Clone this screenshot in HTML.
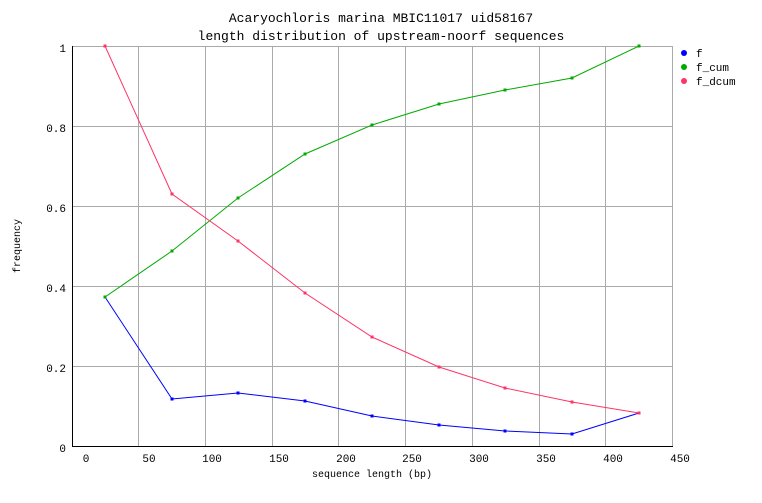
<!DOCTYPE html>
<html><head><style>body{margin:0;background:#fff}</style></head><body>
<svg width="762" height="498" xmlns="http://www.w3.org/2000/svg" font-family="Liberation Mono, DejaVu Sans Mono, monospace" font-size="11">
<rect width="762" height="498" fill="#fff"/>
<g stroke="#aaa" stroke-width="1">
<line x1="138.5" y1="46" x2="138.5" y2="446"/><line x1="205.5" y1="46" x2="205.5" y2="446"/><line x1="272.5" y1="46" x2="272.5" y2="446"/><line x1="338.5" y1="46" x2="338.5" y2="446"/><line x1="405.5" y1="46" x2="405.5" y2="446"/><line x1="472.5" y1="46" x2="472.5" y2="446"/><line x1="539.5" y1="46" x2="539.5" y2="446"/><line x1="605.5" y1="46" x2="605.5" y2="446"/>
<line x1="72" y1="366.5" x2="672" y2="366.5"/><line x1="72" y1="286.5" x2="672" y2="286.5"/><line x1="72" y1="206.5" x2="672" y2="206.5"/><line x1="72" y1="126.5" x2="672" y2="126.5"/>
<line x1="72" y1="46.5" x2="672" y2="46.5"/><line x1="672.5" y1="46" x2="672.5" y2="446"/>
</g>
<line x1="72.5" y1="46" x2="72.5" y2="447" stroke="#000"/><line x1="72" y1="446.5" x2="673" y2="446.5" stroke="#000"/>
<g text-anchor="middle" fill="#000">
<text x="381" y="22" font-size="13">Acaryochloris marina MBIC11017 uid58167</text>
<text x="381" y="40" font-size="13">length distribution of upstream-noorf sequences</text>
<text x="86" y="462">0</text><text x="149" y="462">50</text><text x="212" y="462">100</text><text x="279" y="462">150</text><text x="346" y="462">200</text><text x="412" y="462">250</text><text x="479" y="462">300</text><text x="546" y="462">350</text><text x="613" y="462">400</text><text x="680" y="462">450</text>
<text x="372" y="477" font-size="10">sequence length (bp)</text>
<text x="20" y="246" font-size="10" transform="rotate(-90 20 246)">frequency</text>
</g>
<g text-anchor="end"><text x="66" y="452">0</text><text x="66" y="372">0.2</text><text x="66" y="292">0.4</text><text x="66" y="212">0.6</text><text x="66" y="132">0.8</text><text x="66" y="52">1</text></g>
<polyline fill="none" stroke="#00f" points="105,297 172,399 238,393 305,401 372,416 439,425 505,431 572,434 639,413"/>
<polyline fill="none" stroke="#0a0" points="105,297 172,251 238,198 305,154 372,125 439,104 505,90 572,78 639,46"/>
<polyline fill="none" stroke="#f36" points="105,46 172,194 238,241 305,293 372,337 439,367 505,388 572,402 639,413"/>
<g fill="#00f"><rect x="103.5" y="295.5" width="3" height="3"/><rect x="170.5" y="397.5" width="3" height="3"/><rect x="236.5" y="391.5" width="3" height="3"/><rect x="303.5" y="399.5" width="3" height="3"/><rect x="370.5" y="414.5" width="3" height="3"/><rect x="437.5" y="423.5" width="3" height="3"/><rect x="503.5" y="429.5" width="3" height="3"/><rect x="570.5" y="432.5" width="3" height="3"/></g>
<g fill="#0a0"><rect x="103.5" y="295.5" width="3" height="3"/><rect x="170.5" y="249.5" width="3" height="3"/><rect x="236.5" y="196.5" width="3" height="3"/><rect x="303.5" y="152.5" width="3" height="3"/><rect x="370.5" y="123.5" width="3" height="3"/><rect x="437.5" y="102.5" width="3" height="3"/><rect x="503.5" y="88.5" width="3" height="3"/><rect x="570.5" y="76.5" width="3" height="3"/><rect x="637.5" y="44.5" width="3" height="3"/></g>
<g fill="#f36"><rect x="103.5" y="44.5" width="3" height="3"/><rect x="170.5" y="192.5" width="3" height="3"/><rect x="236.5" y="239.5" width="3" height="3"/><rect x="303.5" y="291.5" width="3" height="3"/><rect x="370.5" y="335.5" width="3" height="3"/><rect x="437.5" y="365.5" width="3" height="3"/><rect x="503.5" y="386.5" width="3" height="3"/><rect x="570.5" y="400.5" width="3" height="3"/><rect x="637.5" y="411.5" width="3" height="3"/></g>
<circle cx="684" cy="53" r="3" fill="#00f"/><circle cx="684" cy="67" r="3" fill="#0a0"/><circle cx="684" cy="81" r="3" fill="#f36"/>
<text x="696" y="57">f</text><text x="696" y="71">f_cum</text><text x="696" y="85">f_dcum</text>
</svg>
</body></html>
